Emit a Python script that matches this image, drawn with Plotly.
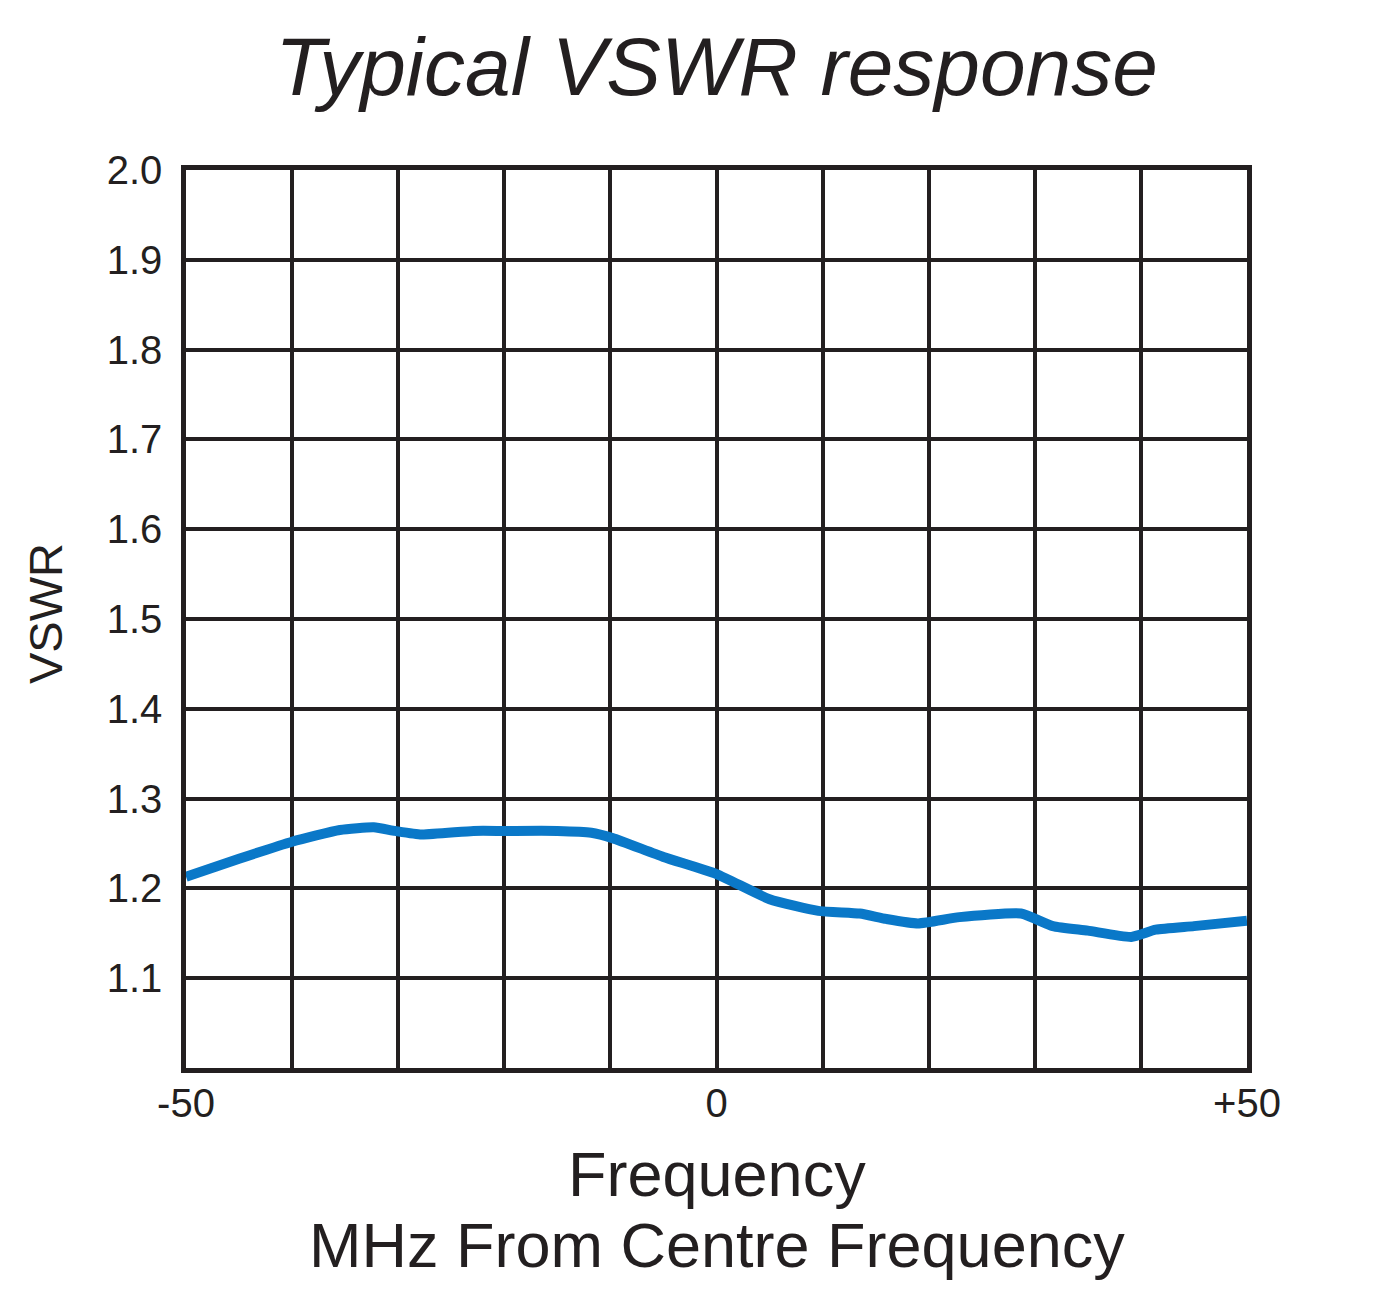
import plotly.graph_objects as go

# frequency offset from centre (MHz) and VSWR
freq_mhz = [-50, -45, -40, -35.5, -32.3, -30.3, -27.8, -22.9, -20, -15, -11.8, -9.8, -5,
            0, 5, 9.6, 13.5, 16, 19, 22.9, 28.7, 31.7, 35, 39.1, 41.4, 45, 50]
vswr = [1.213, 1.233, 1.252, 1.265, 1.268, 1.264, 1.260, 1.264, 1.264, 1.264, 1.262, 1.256, 1.235,
        1.216, 1.188, 1.175, 1.172, 1.166, 1.161, 1.168, 1.172, 1.158, 1.153, 1.146, 1.154, 1.158, 1.164]

x_grid = [-50, -40, -30, -20, -10, 0, 10, 20, 30, 40, 50]
x_labels = ["-50", "", "", "", "", "0", "", "", "", "", "+50"]
y_grid = [1.0, 1.1, 1.2, 1.3, 1.4, 1.5, 1.6, 1.7, 1.8, 1.9, 2.0]
y_labels = ["", "1.1", "1.2", "1.3", "1.4", "1.5", "1.6", "1.7", "1.8", "1.9", "2.0"]

INK = "#231f20"
LINE_BLUE = "#0a78c8"
FONT = "Liberation Sans, Arial, sans-serif"

fig = go.Figure()
fig.add_trace(go.Scatter(
    x=freq_mhz, y=vswr,
    mode="lines",
    line=dict(color=LINE_BLUE, width=10, shape="spline", smoothing=0.5),
    showlegend=False,
    hoverinfo="x+y",
))

axis_common = dict(
    showgrid=True, gridcolor=INK, gridwidth=4,
    showline=True, linecolor=INK, linewidth=4.5, mirror=True,
    zeroline=False, ticks="", tickfont=dict(family=FONT, size=40, color=INK),
    tickmode="array",
)

fig.update_xaxes(range=[-50, 50], tickvals=x_grid, ticktext=x_labels,
                 ticklabelstandoff=-4, **axis_common)
fig.update_yaxes(range=[1.0, 2.0], tickvals=y_grid, ticktext=y_labels,
                 ticklabelstandoff=11, **axis_common)

fig.update_layout(
    width=1382, height=1310,
    margin=dict(l=178, r=143, t=162, b=250),
    plot_bgcolor="white", paper_bgcolor="white",
    font=dict(family=FONT, color=INK),
    title=dict(
        text="Typical VSWR response",
        font=dict(family=FONT, size=82, color=INK, style="italic"),
        xref="paper", x=0.5, xanchor="center", pad=dict(l=0, r=0),
        yref="container", y=1 - 58 / 1310, yanchor="middle",
    ),
    annotations=[
        dict(text="Frequency", xref="paper", yref="paper", x=0.5, y=0,
             xanchor="center", yanchor="middle", yshift=-106, showarrow=False,
             font=dict(family=FONT, size=63, color=INK)),
        dict(text="MHz From Centre Frequency", xref="paper", yref="paper", x=0.5, y=0,
             xanchor="center", yanchor="middle", yshift=-177, showarrow=False,
             font=dict(family=FONT, size=63, color=INK)),
        dict(text="VSWR", xref="paper", yref="paper", x=0, y=0.5,
             xanchor="center", yanchor="middle", xshift=-141, yshift=5, textangle=-90,
             showarrow=False, font=dict(family=FONT, size=47, color=INK)),
    ],
)

fig.write_html("out.html")
